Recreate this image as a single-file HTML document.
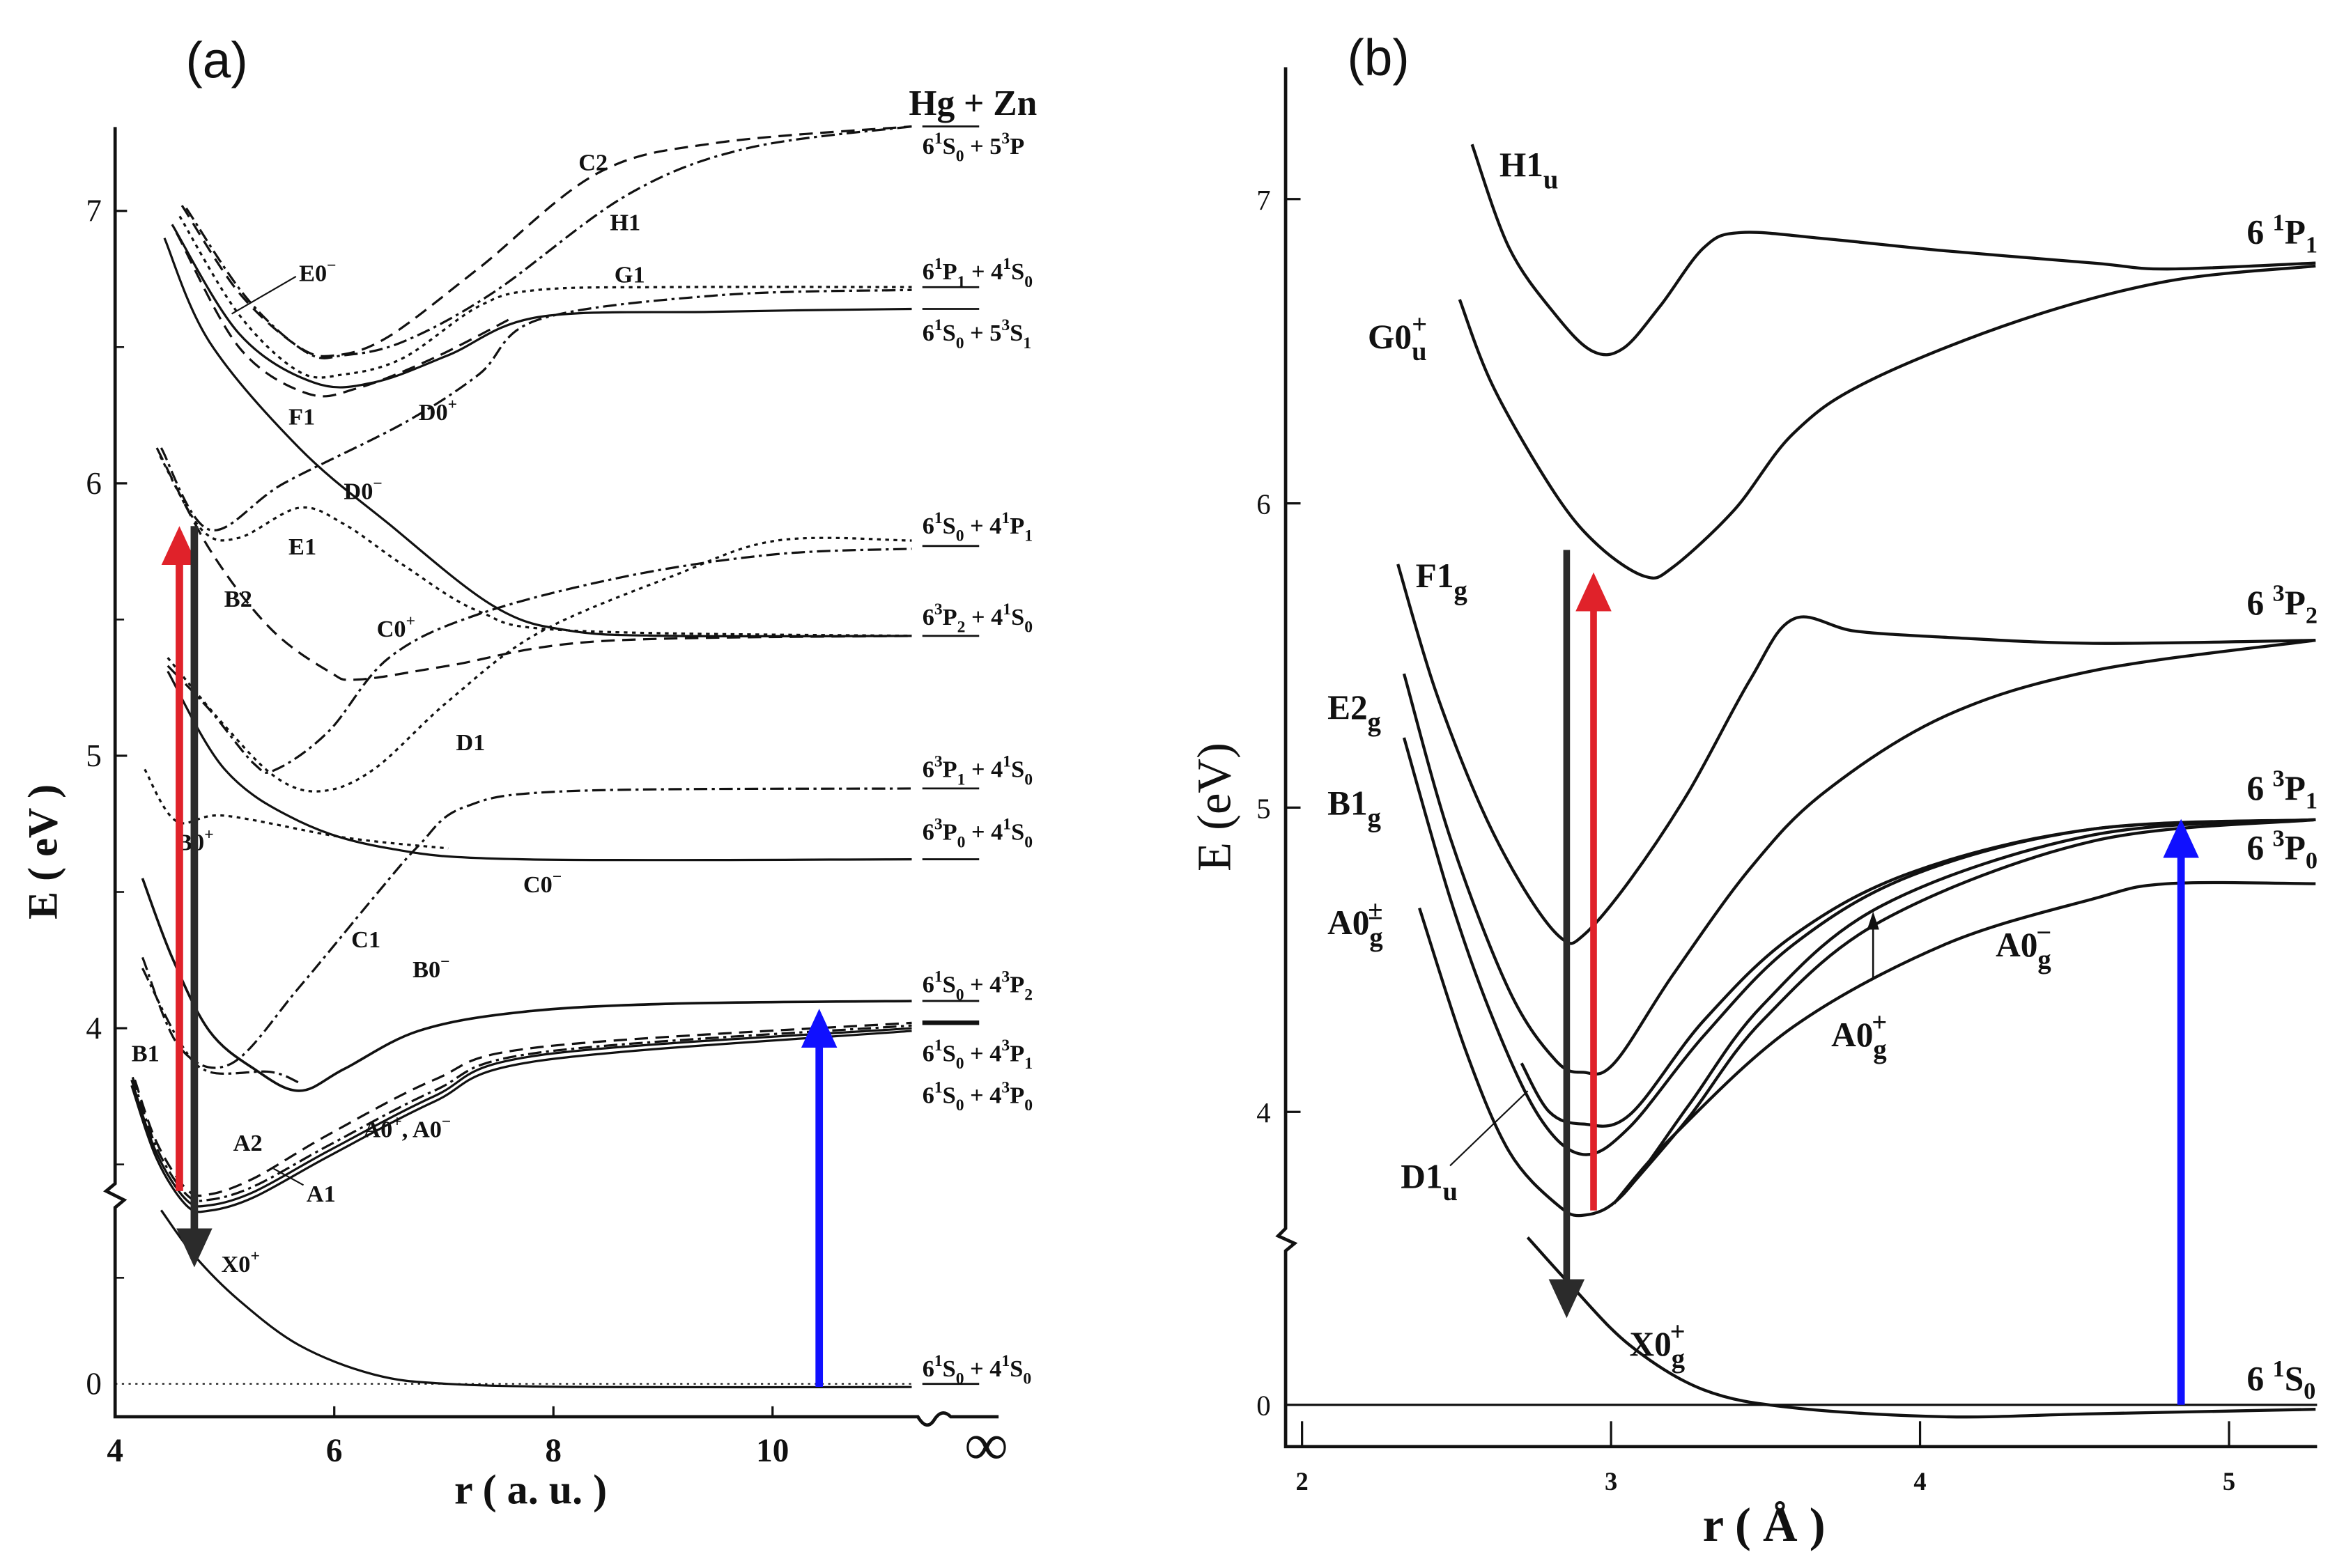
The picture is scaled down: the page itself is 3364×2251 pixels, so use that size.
<!DOCTYPE html>
<html><head><meta charset="utf-8"><style>
html,body{margin:0;padding:0;background:#fff;}
svg{display:block;}
text{font-family:"Liberation Serif",serif;fill:#111;}
.lbl{font-size:16px;font-weight:bold;}
.tick{font-size:19px;}
.sans{font-family:"Liberation Sans",sans-serif;}
</style></head><body>
<svg id="fig" width="3364" height="2251" viewBox="0 0 1568 1049.2" preserveAspectRatio="none" xmlns="http://www.w3.org/2000/svg">
<g id="pa"></g>
<g id="pb"></g>
</svg>
<script>
// ---------- Panel (a) data: [r (a.u.), E (eV)] ----------
const aXTicks=[4,6,8,10];
const aYTicks=[4,5,6,7];
const aC2=[[4.61,7.02],[5.13,6.70],[5.68,6.50],[6.02,6.47],[6.5,6.54],[7.32,6.79],[8.41,7.14],[9.5,7.25],[11.27,7.31]];
const aH1=[[4.65,7.01],[5.2,6.68],[5.75,6.48],[6.09,6.47],[6.63,6.52],[7.45,6.70],[8.68,7.06],[9.77,7.23],[11.27,7.31]];
const aG1=[[4.59,6.98],[5.13,6.62],[5.68,6.41],[6.09,6.40],[6.63,6.46],[7.32,6.65],[7.86,6.71],[9.09,6.72],[11.27,6.72]];
const aE0=[[4.52,6.95],[5.13,6.55],[5.81,6.37],[6.36,6.37],[7.04,6.47],[7.86,6.61],[9.5,6.63],[11.27,6.64]];
const aF1=[[4.56,6.92],[5.13,6.50],[5.75,6.33],[6.22,6.35],[6.91,6.46],[7.59,6.60]];
const aD0m=[[4.45,6.90],[4.86,6.52],[5.68,6.13],[6.5,5.85],[7.45,5.55],[8.13,5.46],[9.09,5.44],[11.27,5.44]];
const aD0p=[[4.42,6.13],[4.86,5.83],[5.54,6.0],[6.63,6.22],[7.32,6.40],[7.86,6.60],[9.5,6.69],[11.27,6.71]];
const aE1=[[4.41,6.10],[4.79,5.83],[5.13,5.80],[5.68,5.91],[6.09,5.85],[6.63,5.70],[7.32,5.53],[8.13,5.46],[11.27,5.44]];
const aB2=[[4.38,6.13],[4.86,5.76],[5.41,5.47],[5.95,5.31],[6.22,5.28],[7.04,5.33],[8.41,5.42],[11.27,5.44]];
const aC0p=[[4.48,5.33],[4.86,5.17],[5.27,4.97],[5.47,4.95],[5.95,5.09],[6.5,5.36],[7.32,5.52],[8.68,5.66],[10.04,5.74],[11.27,5.76]];
const aD1=[[4.48,5.36],[5.0,5.11],[5.47,4.92],[5.88,4.87],[6.36,4.95],[7.04,5.20],[7.86,5.45],[9.09,5.66],[10.04,5.79],[11.27,5.79]];
const aC0m=[[4.48,5.31],[5.0,4.95],[5.68,4.76],[6.5,4.66],[7.72,4.62],[11.27,4.62]];
const aB0p=[[4.27,4.95],[4.56,4.76],[5.0,4.78],[6.09,4.70],[7.04,4.66]];
const aC1=[[4.25,4.26],[4.59,3.93],[5.06,3.87],[5.68,4.15],[6.36,4.48],[6.77,4.67],[7.18,4.81],[8.13,4.87],[11.27,4.88]];
const aB0m=[[4.25,4.55],[4.52,4.26],[4.86,3.99],[5.27,3.85],[5.68,3.77],[6.09,3.85],[6.77,3.99],[7.72,4.06],[9.09,4.09],[11.27,4.10]];
const aB1=[[4.25,4.22],[4.59,3.95],[4.86,3.84],[5.41,3.84],[5.68,3.80]];
const aA2=[[4.18,3.81],[4.38,3.58],[4.65,3.41],[4.86,3.39],[5.27,3.45],[5.95,3.61],[6.91,3.81],[7.86,3.93],[11.27,4.02]];
const aA0=[[4.16,3.82],[4.38,3.56],[4.65,3.39],[4.86,3.37],[5.27,3.42],[5.95,3.57],[6.91,3.77],[7.86,3.91],[11.27,4.01]];
const aA1=[[4.15,3.81],[4.38,3.54],[4.65,3.37],[4.86,3.35],[5.27,3.40],[5.95,3.55],[6.91,3.75],[7.86,3.90],[11.27,4.0]];
const aA1b=[[4.15,3.79],[4.38,3.52],[4.65,3.35],[4.86,3.33],[5.27,3.38],[5.95,3.53],[6.91,3.73],[7.86,3.88],[11.27,3.99]];
const aX0=[[4.42,1.66],[4.72,1.23],[5.13,0.8],[5.68,0.37],[6.36,0.09],[7.04,0],[8.41,-0.03],[11.27,-0.03]];
const aAsym=[7.31,6.72,6.64,5.77,5.44,4.88,4.62,4.10,4.02,0];
// ---------- Panel (b) data: [r (Å), E (eV)] ----------
const bXTicks=[2,3,4,5];
const bYTicks=[4,5,6,7];
const bH1u=[[2.55,7.18],[2.67,6.84],[2.82,6.62],[2.94,6.5],[3.04,6.51],[3.16,6.65],[3.3,6.84],[3.42,6.89],[3.69,6.87],[4.08,6.83],[4.56,6.79],[4.8,6.77],[5.28,6.79]];
const bG0u=[[2.51,6.67],[2.62,6.38],[2.82,6.03],[2.96,5.86],[3.11,5.76],[3.2,5.79],[3.4,5.98],[3.59,6.23],[3.83,6.40],[4.32,6.60],[4.8,6.73],[5.28,6.78]];
const bF1g=[[2.31,5.8],[2.43,5.39],[2.58,5.0],[2.72,4.73],[2.84,4.57],[2.91,4.58],[3.06,4.76],[3.25,5.05],[3.45,5.42],[3.59,5.62],[3.79,5.58],[4.08,5.56],[4.56,5.54],[5.28,5.55]];
const bE2g=[[2.33,5.44],[2.48,4.9],[2.67,4.4],[2.82,4.17],[2.91,4.13],[3.01,4.16],[3.2,4.45],[3.45,4.8],[3.69,5.05],[4.08,5.3],[4.56,5.45],[5.28,5.55]];
const bB1g=[[2.33,5.23],[2.48,4.7],[2.62,4.3],[2.77,3.98],[2.91,3.86],[3.06,3.95],[3.3,4.25],[3.59,4.55],[3.98,4.78],[4.56,4.93],[5.28,4.96]];
const bD1u=[[2.71,4.16],[2.8,4.0],[2.91,3.96],[3.06,3.99],[3.3,4.3],[3.59,4.58],[3.98,4.79],[4.56,4.93],[5.28,4.96]];
const bA0gpm=[[2.38,4.67],[2.53,4.2],[2.67,3.87],[2.82,3.70],[2.91,3.66],[3.04,3.73],[3.25,4.02],[3.49,4.35],[3.88,4.68],[4.56,4.91],[5.28,4.96]];
const bA0gp=[[3.04,3.73],[3.25,3.98],[3.49,4.3],[3.88,4.63],[4.56,4.89],[5.28,4.96]];
const bA0gm=[[3.01,3.70],[3.2,3.92],[3.59,4.28],[4.08,4.55],[4.56,4.70],[4.8,4.75],[5.28,4.75]];
const bX0g=[[2.73,2.24],[2.87,1.6],[3.06,0.8],[3.3,0.2],[3.59,-0.04],[4.08,-0.16],[4.56,-0.12],[5.28,-0.06]];

const NS='http://www.w3.org/2000/svg';
function mk(parent,tag,attrs){const e=document.createElementNS(NS,tag);for(const k in attrs)e.setAttribute(k,attrs[k]);parent.appendChild(e);return e;}
const ax={x:r=>77+(r-4)*73.3, y:E=>E>=3.2?688-(E-4)*182.3:926-E*70};
const bx={x:r=>871+(r-2)*206.7, y:E=>E>=3.2?744-(E-4)*203.6:940-E*50};
function smooth(pts){
  let d='M'+pts[0][0].toFixed(1)+','+pts[0][1].toFixed(1);
  for(let i=0;i<pts.length-1;i++){
    const p0=pts[i-1]||pts[i],p1=pts[i],p2=pts[i+1],p3=pts[i+2]||p2;
    const c1=[p1[0]+(p2[0]-p0[0])/6,p1[1]+(p2[1]-p0[1])/6];
    const c2=[p2[0]-(p3[0]-p1[0])/6,p2[1]-(p3[1]-p1[1])/6];
    d+=' C'+c1[0].toFixed(1)+','+c1[1].toFixed(1)+' '+c2[0].toFixed(1)+','+c2[1].toFixed(1)+' '+p2[0].toFixed(1)+','+p2[1].toFixed(1);
  }
  return d;
}
const DASH={solid:'',dash:'9 5',dot:'2.5 3',dashdot:'9 3 2 3'};
function curve(g,A,data,style,name,w,yfn){
  const pts=data.map(p=>[A.x(p[0]),(yfn||A.y)(p[1])]);
  const p=mk(g,'path',{d:smooth(pts),fill:'none',stroke:'#111','stroke-width':w||1.5,'stroke-dasharray':DASH[style]});
  
  
}
function txt(g,x,y,s,cls,name,extra){
  const ex=Object.assign({},extra||{});let st='';
  if(ex['font-size']){st+='font-size:'+ex['font-size']+'px;';delete ex['font-size'];}
  if(ex['font-weight']){st+='font-weight:'+ex['font-weight']+';';delete ex['font-weight'];}
  const t=mk(g,'text',Object.assign({x:x,y:y,class:cls||'lbl'},ex));
  if(st)t.setAttribute('style',st);
  t.innerHTML=s;
  
  
  return t;
}
function arrow(g,x,y1,y2,color,w,name){
  const dir=y2<y1?-1:1;const hl=26,hw=12;
  const gg=mk(g,'g',{});
  
  
  mk(gg,'line',{x1:x,y1:y1,x2:x,y2:y2-dir*hl,stroke:color,'stroke-width':w});
  mk(gg,'polygon',{points:(x-hw)+','+(y2-dir*hl)+' '+(x+hw)+','+(y2-dir*hl)+' '+x+','+y2,fill:color});
}
const SUP=s=>'<tspan dy="-7" font-size="11">'+s+'</tspan>';
const SUB=s=>'<tspan dy="5" font-size="11">'+s+'</tspan>';
function lvl(a,b,c){return '6'+SUP(a)+'<tspan dy="7">S</tspan>'+SUB(b)+c;}

// ---------------- Panel A ----------------
const ga=document.getElementById('pa');
mk(ga,'path',{d:'M77,85 L77,792 L71,797 L83,803 L77,808 L77,948 L614,948 Q620,958 625,950 Q630,942 636,948 L668,948',fill:'none',stroke:'#111','stroke-width':2.2});
aXTicks.forEach(v=>{const X=ax.x(v);mk(ga,'line',{x1:X,y1:948,x2:X,y2:941,stroke:'#111','stroke-width':1.5});txt(ga,X,978,v,'tick','x-tick-a-'+v,{'text-anchor':'middle','font-size':'22','font-weight':'bold'});});
aYTicks.forEach(v=>{const Y=ax.y(v);mk(ga,'line',{x1:77,y1:Y,x2:85,y2:Y,stroke:'#111','stroke-width':1.5});txt(ga,68,Y+7,v,'tick','y-tick-a-'+v,{'text-anchor':'end','font-size':'21'});});
[4.5,5.5,6.5,3.5].forEach(v=>{const Y=ax.y(v);mk(ga,'line',{x1:77,y1:Y,x2:83,y2:Y,stroke:'#111','stroke-width':1.2});});
mk(ga,'line',{x1:77,y1:855,x2:83,y2:855,stroke:'#111','stroke-width':1.2});
txt(ga,68,933,'0','tick','y-tick-a-0',{'text-anchor':'end','font-size':'21'});
txt(ga,674,980,'∞','tick','x-tick-infinity',{'text-anchor':'end','font-size':'40','font-weight':'bold'});
txt(ga,355,1006,'r ( a. u. )','tick','x-axis-title-a',{'text-anchor':'middle','font-size':'28','font-weight':'bold'});
txt(ga,38,570,'E ( eV )','tick','y-axis-title-a',{'text-anchor':'middle','font-size':'28','font-weight':'bold',transform:'rotate(-90 38 570)'});
txt(ga,145,52,'(a)','sans','panel-label-a',{'text-anchor':'middle','font-size':'34'});
mk(ga,'line',{x1:77,y1:926,x2:610,y2:926,stroke:'#111','stroke-width':1,'stroke-dasharray':'1.5 3'});
curve(ga,ax,aC2,'dash','curve-C2');
curve(ga,ax,aH1,'dashdot','curve-H1');
curve(ga,ax,aG1,'dot','curve-G1');
curve(ga,ax,aE0,'solid','curve-E0-minus');
curve(ga,ax,aF1,'dash','curve-F1');
curve(ga,ax,aD0m,'solid','curve-D0-minus');
curve(ga,ax,aD0p,'dashdot','curve-D0-plus');
curve(ga,ax,aE1,'dot','curve-E1');
curve(ga,ax,aB2,'dash','curve-B2');
curve(ga,ax,aC0p,'dashdot','curve-C0-plus');
curve(ga,ax,aD1,'dot','curve-D1');
curve(ga,ax,aC0m,'solid','curve-C0-minus');
curve(ga,ax,aB0p,'dot','curve-B0-plus');
curve(ga,ax,aC1,'dashdot','curve-C1');
curve(ga,ax,aB0m,'solid','curve-B0-minus',1.7);
curve(ga,ax,aB1,'dashdot','curve-B1');
curve(ga,ax,aA2,'dash','curve-A2');
curve(ga,ax,aA0,'dashdot','curve-A0');
curve(ga,ax,aA1,'solid','curve-A1');
curve(ga,ax,aA1b,'solid','curve-A1-lower');
curve(ga,ax,aX0,'solid','curve-X0',1.5,E=>926-E*70);
aAsym.forEach((E,i)=>{const Y=E===0?926:ax.y(E);mk(ga,'line',{x1:617,y1:Y,x2:655,y2:Y,stroke:'#111','stroke-width':i==8?3:1.3});});
txt(ga,608,77,'Hg + Zn','lbl','label-hg-zn',{'font-size':'24'});
txt(ga,617,103,lvl('1','0','<tspan dy="-5"> + 5</tspan>'+SUP('3')+'<tspan dy="7">P</tspan>'),'lbl','asym-6S0-5P');
txt(ga,617,187,'6'+SUP('1')+'<tspan dy="7">P</tspan>'+SUB('1')+'<tspan dy="-5"> + 4</tspan>'+SUP('1')+'<tspan dy="7">S</tspan>'+SUB('0'),'lbl','asym-6P1-4S0');
txt(ga,617,228,lvl('1','0','<tspan dy="-5"> + 5</tspan>'+SUP('3')+'<tspan dy="7">S</tspan>'+SUB('1')),'lbl','asym-6S0-5S1');
txt(ga,617,357,lvl('1','0','<tspan dy="-5"> + 4</tspan>'+SUP('1')+'<tspan dy="7">P</tspan>'+SUB('1')),'lbl','asym-6S0-4P1');
txt(ga,617,418,'6'+SUP('3')+'<tspan dy="7">P</tspan>'+SUB('2')+'<tspan dy="-5"> + 4</tspan>'+SUP('1')+'<tspan dy="7">S</tspan>'+SUB('0'),'lbl','asym-6P2-4S0');
txt(ga,617,520,'6'+SUP('3')+'<tspan dy="7">P</tspan>'+SUB('1')+'<tspan dy="-5"> + 4</tspan>'+SUP('1')+'<tspan dy="7">S</tspan>'+SUB('0'),'lbl','asym-6P1-4S0-triplet');
txt(ga,617,562,'6'+SUP('3')+'<tspan dy="7">P</tspan>'+SUB('0')+'<tspan dy="-5"> + 4</tspan>'+SUP('1')+'<tspan dy="7">S</tspan>'+SUB('0'),'lbl','asym-6P0-4S0');
txt(ga,617,664,lvl('1','0','<tspan dy="-5"> + 4</tspan>'+SUP('3')+'<tspan dy="7">P</tspan>'+SUB('2')),'lbl','asym-6S0-4P2');
txt(ga,617,710,lvl('1','0','<tspan dy="-5"> + 4</tspan>'+SUP('3')+'<tspan dy="7">P</tspan>'+SUB('1')),'lbl','asym-6S0-4P1-triplet');
txt(ga,617,738,lvl('1','0','<tspan dy="-5"> + 4</tspan>'+SUP('3')+'<tspan dy="7">P</tspan>'+SUB('0')),'lbl','asym-6S0-4P0');
txt(ga,617,921,lvl('1','0','<tspan dy="-5"> + 4</tspan>'+SUP('1')+'<tspan dy="7">S</tspan>'+SUB('0')),'lbl','asym-6S0-4S0');
[['C2',387,114],['H1',408,154],['G1',411,189],['E0'+SUP('−'),200,188],['F1',193,284],['D0'+SUP('+'),280,281],['D0'+SUP('−'),230,334],['E1',193,371],['B2',150,406],['C0'+SUP('+'),252,426],['D1',305,502],['B0'+SUP('+'),118,569],['C0'+SUP('−'),350,597],['C1',235,634],['B0'+SUP('−'),276,654],['B1',88,710],['A2',156,770],['A0'+SUP('+')+'<tspan dy="7">, A0</tspan>'+SUP('−'),243,761],['A1',205,804],['X0'+SUP('+'),148,851]].forEach((l,i)=>txt(ga,l[1],l[2],l[0],'lbl','curve-label-a-'+i));
mk(ga,'line',{x1:198,y1:185,x2:155,y2:210,stroke:'#111','stroke-width':1});
mk(ga,'line',{x1:203,y1:793,x2:183,y2:782,stroke:'#111','stroke-width':1});
arrow(ga,120,797,352,'#e0222a',5,'red-arrow-a');
arrow(ga,130,352,848,'#2b2b2b',5,'black-arrow-a');
arrow(ga,548,928,675,'#1010ff',5,'blue-arrow-a');

// ---------------- Panel B ----------------
const gb=document.getElementById('pb');
mk(gb,'path',{d:'M860,45 L860,822 L855,827 L866,832 L860,837 L860,968 L1550,968',fill:'none',stroke:'#111','stroke-width':2.2});
bXTicks.forEach(v=>{const X=bx.x(v);mk(gb,'line',{x1:X,y1:968,x2:X,y2:951,stroke:'#111','stroke-width':1.5});txt(gb,X,997,v,'tick','x-tick-b-'+v,{'text-anchor':'middle','font-size':'17','font-weight':'bold'});});
bYTicks.forEach(v=>{const Y=bx.y(v);mk(gb,'line',{x1:860,y1:Y,x2:870,y2:Y,stroke:'#111','stroke-width':1.5});txt(gb,850,Y+7,v,'tick','y-tick-b-'+v,{'text-anchor':'end','font-size':'19'});});
txt(gb,850,947,'0','tick','y-tick-b-0',{'text-anchor':'end','font-size':'19'});
mk(gb,'line',{x1:860,y1:940,x2:1550,y2:940,stroke:'#111','stroke-width':1.5});
txt(gb,1180,1031,'r ( Å )','tick','x-axis-title-b',{'text-anchor':'middle','font-size':'32','font-weight':'bold'});
txt(gb,823,540,'E (eV)','tick','y-axis-title-b',{'text-anchor':'middle','font-size':'32',transform:'rotate(-90 823 540)'});
txt(gb,922,50,'(b)','sans','panel-label-b',{'text-anchor':'middle','font-size':'34'});
curve(gb,bx,bH1u,'solid','curve-H1u',2);
curve(gb,bx,bG0u,'solid','curve-G0u-plus',2);
curve(gb,bx,bF1g,'solid','curve-F1g',2);
curve(gb,bx,bE2g,'solid','curve-E2g',2);
curve(gb,bx,bB1g,'solid','curve-B1g',2);
curve(gb,bx,bD1u,'solid','curve-D1u',2);
curve(gb,bx,bA0gpm,'solid','curve-A0g-pm',2);
curve(gb,bx,bA0gp,'solid','curve-A0g-plus',2);
curve(gb,bx,bA0gm,'solid','curve-A0g-minus',2);
curve(gb,bx,bX0g,'solid','curve-X0g-plus',2,E=>940-E*50);
const B=(s,sub,sup)=>s+'<tspan dy="8" font-size="18">'+sub+'</tspan>'+(sup?'<tspan dy="-18" dx="-10" font-size="18">'+sup+'</tspan>':'');
[[B('H1','u'),1003,118],[B('G0','u','+'),915,233],[B('F1','g'),947,393],[B('E2','g'),888,481],[B('B1','g'),888,545],[B('A0','g','±'),888,625],[B('D1','u'),937,795],[B('X0','g','+'),1090,907],[B('A0','g','−'),1335,640],[B('A0','g','+'),1225,700]].forEach((l,i)=>txt(gb,l[1],l[2],l[0],'lbl','curve-label-b-'+i,{'font-size':'23'}));
const T=(p,n)=>'6 '+'<tspan dy="-9" font-size="16">'+p+'</tspan><tspan dy="9">'+n[0]+'</tspan><tspan dy="6" font-size="16">'+n[1]+'</tspan>';
[[T('1','P1'),1503,163],[T('3','P2'),1503,411],[T('3','P1'),1503,535],[T('3','P0'),1503,575],[T('1','S0'),1503,930]].forEach((l,i)=>txt(gb,l[1],l[2],l[0],'lbl','asym-label-b-'+i,{'font-size':'23'}));
mk(gb,'line',{x1:970,y1:780,x2:1022,y2:730,stroke:'#111','stroke-width':1});
mk(gb,'line',{x1:1253,y1:655,x2:1253,y2:612,stroke:'#111','stroke-width':1.2});
mk(gb,'polygon',{points:'1249,622 1257,622 1253,610',fill:'#111'});
arrow(gb,1048,368,882,'#2b2b2b',4.5,'black-arrow-b');
arrow(gb,1066,810,383,'#e0222a',4.5,'red-arrow-b');
arrow(gb,1459,940,548,'#1010ff',5,'blue-arrow-b');
</script>
</body></html>
